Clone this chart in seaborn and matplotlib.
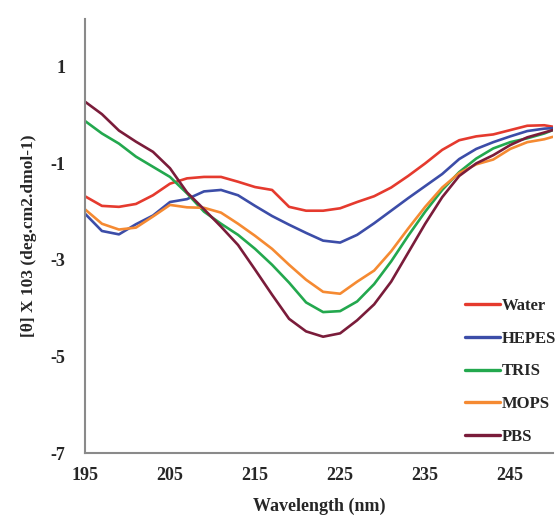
import numpy as np
import pandas as pd
import seaborn as sns
import matplotlib
matplotlib.use("Agg")
import matplotlib.pyplot as plt

# wavelength grid (nm)
wavelength = [195, 197, 199, 201, 203, 205, 207, 209, 211, 213, 215, 217, 219, 221,
              223, 225, 227, 229, 231, 233, 235, 237, 239, 241, 243, 245, 247, 249, 250]

water = [-1.68, -1.88, -1.90, -1.84, -1.66, -1.42, -1.31, -1.28, -1.28, -1.38, -1.49, -1.55,
         -1.90, -1.98, -1.98, -1.93, -1.80, -1.68, -1.50, -1.26, -1.00, -0.72, -0.52, -0.44,
         -0.40, -0.31, -0.22, -0.21, -0.24]
hepes = [-2.04, -2.40, -2.47, -2.26, -2.08, -1.80, -1.74, -1.58, -1.55, -1.66, -1.88, -2.09,
         -2.27, -2.44, -2.60, -2.64, -2.48, -2.24, -1.98, -1.72, -1.47, -1.22, -0.91, -0.70,
         -0.56, -0.44, -0.33, -0.28, -0.27]
tris = [-0.12, -0.38, -0.59, -0.86, -1.07, -1.28, -1.62, -2.00, -2.25, -2.48, -2.77, -3.10,
        -3.47, -3.88, -4.08, -4.06, -3.86, -3.50, -3.03, -2.50, -2.00, -1.55, -1.18, -0.90,
        -0.69, -0.56, -0.48, -0.38, -0.31]
mops = [-1.95, -2.25, -2.37, -2.33, -2.10, -1.86, -1.91, -1.92, -2.02, -2.25, -2.50, -2.77,
        -3.10, -3.41, -3.66, -3.70, -3.45, -3.22, -2.82, -2.35, -1.90, -1.50, -1.20, -1.02,
        -0.92, -0.70, -0.56, -0.50, -0.45]
pbs = [0.28, 0.02, -0.32, -0.55, -0.76, -1.10, -1.60, -1.95, -2.31, -2.69, -3.20, -3.72,
       -4.22, -4.48, -4.59, -4.52, -4.25, -3.92, -3.45, -2.85, -2.25, -1.70, -1.26, -1.00,
       -0.83, -0.62, -0.46, -0.36, -0.31]

buffers = ["Water", "HEPES", "TRIS", "MOPS", "PBS"]
colors = ["#E53A2E", "#3C4DA8", "#23A84E", "#F58A32", "#7A1C3A"]

rows = []
for name, vals in zip(buffers, [water, hepes, tris, mops, pbs]):
    for w, v in zip(wavelength, vals):
        rows.append([name, w, v])
df = pd.DataFrame(rows, columns=["Buffer", "Wavelength", "Theta"])

sns.set_style("white")
plt.rcParams["font.family"] = ["Liberation Serif", "DejaVu Serif"]
plt.rcParams["font.weight"] = "bold"
plt.rcParams["axes.unicode_minus"] = False

fig = plt.figure(figsize=(5.55, 5.16), dpi=100)
ax = fig.add_axes([0.153, 0.122, 0.843, 0.842])

sns.lineplot(data=df, x="Wavelength", y="Theta", hue="Buffer", hue_order=buffers,
             palette=dict(zip(buffers, colors)), linewidth=1.9, ax=ax, sort=True)

ax.set_xlim(195, 250)
ax.set_ylim(-7, 2)
ax.set_xticks([195, 205, 215, 225, 235, 245])
ax.set_yticks([-7, -5, -3, -1, 1])
ax.tick_params(axis="both", length=0, labelsize=13)
ax.tick_params(axis="y", pad=14)
ax.tick_params(axis="x", pad=10)
for lab in ax.get_xticklabels() + ax.get_yticklabels():
    lab.set_fontweight("bold")

for s in ["top", "right"]:
    ax.spines[s].set_visible(False)
for s in ["left", "bottom"]:
    ax.spines[s].set_color("#8a8a8a")
    ax.spines[s].set_linewidth(1.5)

ax.set_xlabel("Wavelength (nm)", fontsize=13, fontweight="bold", labelpad=10)
ax.set_ylabel("[\u03b8] X 103 (deg.cm2.dmol-1)", fontsize=12.5, fontweight="bold", labelpad=10)

leg = ax.legend(loc="upper left", bbox_to_anchor=(0.798, 0.372), frameon=False,
                fontsize=12, handlelength=2.1, handletextpad=0.1, labelspacing=1.0,
                borderaxespad=0)
for t in leg.get_texts():
    t.set_fontweight("bold")
for l in leg.get_lines():
    l.set_linewidth(2.4)

fig.savefig("out.png", dpi=100)
